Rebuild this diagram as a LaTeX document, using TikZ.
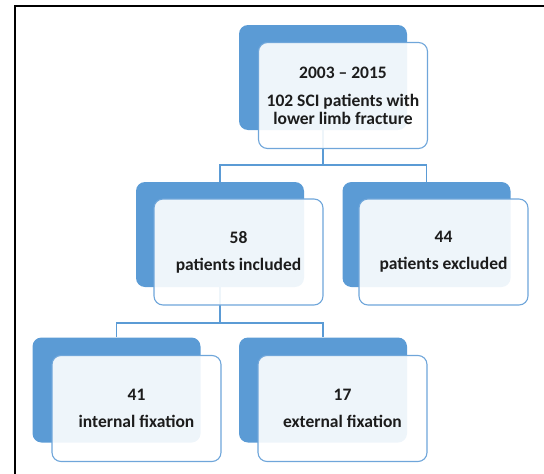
\documentclass[tikz,border=0pt]{standalone}
\usepackage{fontspec}
\setmainfont{Carlito}
\definecolor{dkblue}{HTML}{5B9BD5}
\definecolor{edgeblue}{HTML}{6FA6DA}
\definecolor{txt}{HTML}{1C1C1C}
\tikzset{
  darkbox/.style={fill=dkblue, rounded corners=9pt, minimum width=168pt, minimum height=105pt, inner sep=0pt},
  lightbox/.style={draw=edgeblue, line width=1.1pt, fill=white, fill opacity=0.9, text opacity=1,
    rounded corners=9pt, minimum width=169pt, minimum height=106pt, inner sep=0pt, align=center,
    font=\bfseries\fontsize{17.5}{18}\selectfont, text=txt},
  conn/.style={draw=dkblue, line width=1.3pt},
  frameline/.style={draw=black, line width=2pt}
}
\begin{document}
\begin{tikzpicture}[x=1pt, y=-1pt]
\useasboundingbox (0,0) rectangle (544,474);
\draw[frameline] (15,474) -- (15,6) -- (544,6);
% dark back boxes
\node[darkbox] (td)  at (323,77.5) {};
\node[darkbox] (mld) at (220,234.5) {};
\node[darkbox] (mrd) at (426.5,234.5) {};
\node[darkbox] (bld) at (116.5,390) {};
\node[darkbox] (brd) at (323,390) {};
% connectors
\coordinate (j1) at (323,165);
\coordinate (j2) at (220,323);
\draw[conn] (td.south) -- (j1);
\draw[conn] (j1) -| (mld.north);
\draw[conn] (j1) -| (mrd.north);
\draw[conn] (mld.south) -- (j2);
\draw[conn] (j2) -| (bld.north);
\draw[conn] (j2) -| (brd.north);
% light front boxes
\node[lightbox] (tl)  at (343,95.5) {2003 -- 2015\\[10pt]102 SCI patients with\\lower limb fracture};
\node[lightbox] (mll) at (238.5,252) {58\\[9pt]patients included};
\node[lightbox] (mrl) at (443.5,252) {44\\[9pt]patients excluded};
\node[lightbox] (bll) at (136.5,408.5) {41\\[9pt]internal fixation};
\node[lightbox] (brl) at (342.5,408.5) {17\\[9pt]external fixation};
\end{tikzpicture}
\end{document}
